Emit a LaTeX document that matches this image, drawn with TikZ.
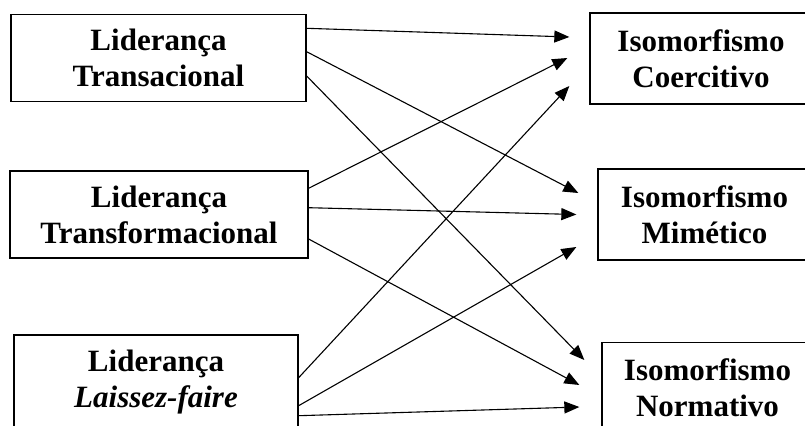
\documentclass[tikz,border=0pt]{standalone}
\usepackage{fontspec}
\setmainfont{Liberation Serif}
\usetikzlibrary{arrows.meta}

\begin{document}
\begin{tikzpicture}[x=0.5pt,y=0.5pt,
		box/.style={draw,line width=0.65pt,align=center,inner sep=0pt,
			font=\fontsize{15.5}{18}\selectfont\bfseries},
		link/.style={line width=0.55pt,-{Triangle[length=7.5pt,width=6pt]}}]
	\useasboundingbox (0,0) rectangle (805,425);
	\clip (0,0) rectangle (805,425);

	% leadership styles
	\node[box,minimum width=147.5pt,minimum height=43.25pt] (trans) at (158.5,367) {Liderança\\Transacional};
	\node[box,minimum width=149pt,minimum height=43.5pt] (transf) at (159,210.5) {Liderança\\Transformacional};
	\node[box,minimum width=142pt,minimum height=47pt] (laissez) at (156,43) {Liderança\\{\itshape Laissez-faire}};

	% isomorphism types
	\node[box,minimum width=111pt,minimum height=45.5pt] (coerc) at (701,366.5) {Isomorfismo\\Coercitivo};
	\node[box,minimum width=106.5pt,minimum height=45.5pt] (mimet) at (704.5,210.5) {Isomorfismo\\Mimético};
	\node[box,minimum width=105.5pt,minimum height=45.5pt] (norm) at (707.5,37) {Isomorfismo\\Normativo};

	% Transacional
	\draw[link] ([yshift=14.85pt]trans.east) -- ([xshift=-10pt,yshift=10.75pt]coerc.west);
	\draw[link] ([yshift=3.15pt]trans.east) -- ([xshift=-9.5pt,yshift=10.75pt]mimet.west);
	\draw[link] ([yshift=-9pt]trans.east) -- ([xshift=-8.5pt,yshift=14pt]norm.west);

	% Transformacional
	\draw[link] ([yshift=13.1pt]transf.east) -- ([xshift=-11pt,yshift=0.25pt]coerc.west);
	\draw[link] ([yshift=3.4pt]transf.east) -- ([xshift=-10.5pt]mimet.west);
	\draw[link] ([yshift=-12.25pt]transf.east) -- ([xshift=-11pt,yshift=1.5pt]norm.west);

	% Laissez-faire
	\draw[link] ([yshift=2.15pt]laissez.east) -- ([xshift=-10pt,yshift=-13.75pt]coerc.west);
	\draw[link] ([yshift=-11.85pt]laissez.east) -- ([xshift=-10.5pt,yshift=-16.25pt]mimet.west);
	\draw[link] ([yshift=-16.85pt]laissez.east) -- ([xshift=-11pt,yshift=-9.5pt]norm.west);
\end{tikzpicture}
\end{document}
